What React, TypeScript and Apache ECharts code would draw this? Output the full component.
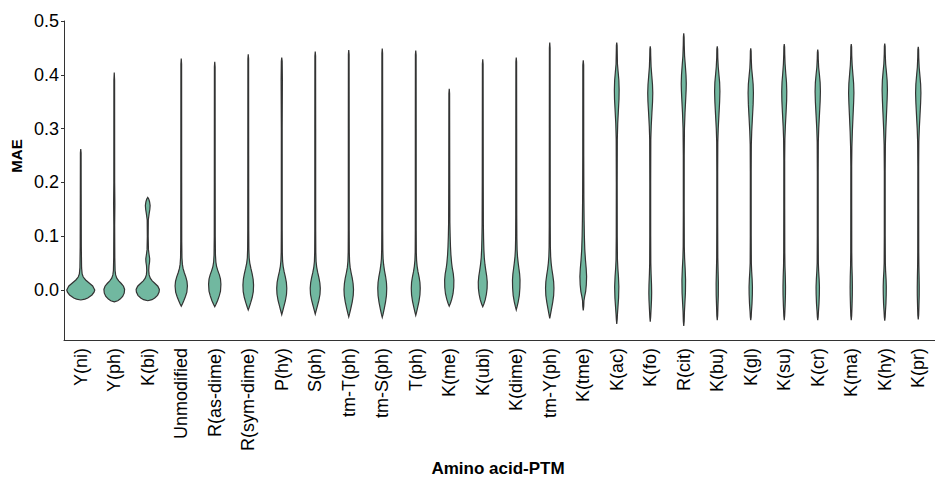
import React, { useEffect, useRef } from "react";
import * as echarts from "echarts";

const categories = [
  "Y(ni)", "Y(ph)", "K(bi)", "Unmodified", "R(as-dime)", "R(sym-dime)", "P(hy)", "S(ph)",
  "tm-T(ph)", "tm-S(ph)", "T(ph)", "K(me)", "K(ubi)", "K(dime)", "tm-Y(ph)", "K(tme)",
  "K(ac)", "K(fo)", "R(cit)", "K(bu)", "K(gl)", "K(su)", "K(cr)", "K(ma)", "K(hy)", "K(pr)",
];

const yTicks = [0, 0.1, 0.2, 0.3, 0.4, 0.5];

// Each violin: [MAE value, relative density (half-width)]
const Y_ni = [[-0.0186,0],[-0.017,0.3],[-0.015,0.5],[-0.0093,0.8],[-0.004,0.95],[0.0,1.0],[0.0074,0.85],[0.013,0.6],[0.0186,0.35],[0.024,0.18],[0.03,0.1],[0.041,0.06],[0.08,0.04],[0.18,0.03],[0.255,0.025],[0.262,0]];
const Y_ph = [[-0.022,0],[-0.02,0.25],[-0.017,0.42],[-0.012,0.6],[-0.006,0.71],[0.001,0.74],[0.007,0.66],[0.012,0.5],[0.017,0.32],[0.022,0.18],[0.028,0.1],[0.036,0.06],[0.06,0.04],[0.12,0.03],[0.16,0.045],[0.2,0.03],[0.39,0.025],[0.404,0]];
const K_bi = [[-0.02,0],[-0.018,0.3],[-0.015,0.5],[-0.01,0.7],[-0.004,0.81],[0.001,0.83],[0.007,0.72],[0.012,0.52],[0.017,0.32],[0.022,0.18],[0.028,0.1],[0.036,0.07],[0.045,0.09],[0.052,0.13],[0.058,0.14],[0.065,0.1],[0.075,0.05],[0.1,0.03],[0.13,0.04],[0.142,0.1],[0.15,0.15],[0.157,0.17],[0.164,0.13],[0.169,0.07],[0.172,0]];
const Unmodified = [[-0.03,0],[-0.026,0.08],[-0.02,0.18],[-0.012,0.3],[-0.004,0.4],[0.0074,0.44],[0.016,0.41],[0.024,0.33],[0.032,0.22],[0.04,0.13],[0.048,0.08],[0.06,0.05],[0.09,0.035],[0.2,0.03],[0.42,0.025],[0.43,0]];
const R_asdime = [[-0.031,0],[-0.027,0.08],[-0.02,0.2],[-0.011,0.32],[-0.002,0.41],[0.0106,0.44],[0.02,0.41],[0.028,0.33],[0.036,0.22],[0.044,0.13],[0.052,0.08],[0.065,0.05],[0.1,0.035],[0.2,0.03],[0.415,0.025],[0.424,0]];
const R_symdime = [[-0.037,0],[-0.032,0.07],[-0.024,0.17],[-0.014,0.28],[-0.003,0.36],[0.009,0.38],[0.02,0.35],[0.03,0.28],[0.04,0.19],[0.05,0.11],[0.06,0.065],[0.075,0.045],[0.11,0.035],[0.25,0.03],[0.43,0.025],[0.438,0]];
const P_hy = [[-0.046,0],[-0.04,0.06],[-0.031,0.15],[-0.02,0.26],[-0.008,0.34],[0.003,0.36],[0.014,0.33],[0.024,0.26],[0.034,0.17],[0.044,0.1],[0.054,0.06],[0.07,0.04],[0.11,0.032],[0.3,0.03],[0.39,0.045],[0.425,0.03],[0.432,0]];
const S_ph = [[-0.045,0],[-0.039,0.06],[-0.03,0.15],[-0.019,0.26],[-0.008,0.34],[0.003,0.36],[0.013,0.33],[0.023,0.26],[0.033,0.17],[0.043,0.1],[0.053,0.06],[0.07,0.04],[0.11,0.032],[0.3,0.03],[0.435,0.025],[0.443,0]];
const tmT_ph = [[-0.05,0],[-0.044,0.06],[-0.034,0.15],[-0.022,0.25],[-0.01,0.32],[0.001,0.34],[0.012,0.31],[0.022,0.25],[0.032,0.17],[0.042,0.1],[0.053,0.06],[0.07,0.04],[0.11,0.032],[0.3,0.03],[0.438,0.025],[0.446,0]];
const tmS_ph = [[-0.051,0],[-0.045,0.06],[-0.035,0.14],[-0.023,0.23],[-0.01,0.3],[0.003,0.32],[0.014,0.3],[0.025,0.24],[0.036,0.16],[0.047,0.1],[0.058,0.06],[0.075,0.04],[0.11,0.032],[0.3,0.03],[0.44,0.025],[0.449,0]];
const T_ph = [[-0.047,0],[-0.041,0.06],[-0.032,0.14],[-0.021,0.23],[-0.009,0.3],[0.003,0.32],[0.014,0.3],[0.024,0.24],[0.034,0.16],[0.044,0.1],[0.055,0.06],[0.07,0.04],[0.11,0.032],[0.3,0.03],[0.437,0.025],[0.445,0]];
const K_me = [[-0.03,0],[-0.025,0.08],[-0.017,0.18],[-0.007,0.27],[0.005,0.32],[0.0186,0.33],[0.03,0.29],[0.04,0.22],[0.05,0.17],[0.065,0.12],[0.08,0.09],[0.1,0.065],[0.125,0.045],[0.2,0.035],[0.365,0.025],[0.374,0]];
const K_ubi = [[-0.031,0],[-0.026,0.08],[-0.018,0.18],[-0.008,0.26],[0.003,0.31],[0.015,0.32],[0.026,0.28],[0.036,0.22],[0.047,0.16],[0.06,0.11],[0.075,0.08],[0.095,0.06],[0.12,0.045],[0.2,0.035],[0.42,0.025],[0.429,0]];
const K_dime = [[-0.037,0],[-0.031,0.06],[-0.022,0.14],[-0.01,0.22],[0.004,0.26],[0.0186,0.27],[0.03,0.24],[0.04,0.19],[0.05,0.14],[0.062,0.09],[0.075,0.06],[0.095,0.045],[0.14,0.035],[0.3,0.03],[0.424,0.025],[0.432,0]];
const tmY_ph = [[-0.053,0],[-0.046,0.05],[-0.036,0.12],[-0.023,0.21],[-0.01,0.28],[0.003,0.3],[0.015,0.28],[0.027,0.22],[0.039,0.15],[0.05,0.1],[0.062,0.065],[0.08,0.045],[0.12,0.035],[0.3,0.03],[0.45,0.025],[0.46,0]];
const K_tme = [[-0.038,0],[-0.03,0.035],[-0.02,0.05],[-0.012,0.1],[-0.003,0.17],[0.01,0.22],[0.025,0.24],[0.04,0.21],[0.055,0.16],[0.075,0.11],[0.1,0.08],[0.13,0.06],[0.17,0.045],[0.25,0.035],[0.418,0.03],[0.427,0]];
const K_ac = [[-0.063,0],[-0.055,0.03],[-0.045,0.05],[-0.03,0.09],[-0.015,0.13],[0.006,0.15],[0.025,0.12],[0.04,0.08],[0.056,0.05],[0.1,0.035],[0.2,0.03],[0.28,0.04],[0.31,0.07],[0.335,0.12],[0.355,0.16],[0.372,0.17],[0.39,0.15],[0.405,0.1],[0.42,0.05],[0.44,0.035],[0.455,0.025],[0.46,0]];
const K_fo = [[-0.059,0],[-0.05,0.03],[-0.035,0.06],[-0.018,0.09],[-0.005,0.1],[0.01,0.09],[0.03,0.06],[0.05,0.04],[0.1,0.032],[0.2,0.03],[0.28,0.04],[0.305,0.07],[0.33,0.12],[0.35,0.165],[0.366,0.18],[0.382,0.16],[0.398,0.11],[0.415,0.06],[0.435,0.035],[0.448,0.025],[0.453,0]];
const R_cit = [[-0.067,0],[-0.058,0.03],[-0.04,0.05],[-0.025,0.08],[-0.005,0.12],[0.019,0.13],[0.04,0.1],[0.06,0.06],[0.08,0.04],[0.15,0.03],[0.25,0.032],[0.3,0.05],[0.33,0.09],[0.355,0.14],[0.372,0.17],[0.384,0.18],[0.4,0.16],[0.418,0.11],[0.435,0.06],[0.455,0.035],[0.47,0.025],[0.477,0]];
const K_bu = [[-0.056,0],[-0.048,0.03],[-0.03,0.05],[-0.01,0.075],[0.013,0.08],[0.035,0.06],[0.06,0.04],[0.12,0.032],[0.22,0.03],[0.275,0.04],[0.3,0.07],[0.325,0.12],[0.35,0.17],[0.369,0.19],[0.386,0.17],[0.4,0.12],[0.415,0.07],[0.432,0.038],[0.448,0.028],[0.453,0]];
const K_gl = [[-0.056,0],[-0.05,0.03],[-0.04,0.05],[-0.025,0.09],[-0.008,0.115],[0.006,0.12],[0.02,0.1],[0.035,0.065],[0.05,0.042],[0.1,0.032],[0.22,0.03],[0.27,0.04],[0.295,0.07],[0.32,0.12],[0.345,0.17],[0.366,0.19],[0.383,0.17],[0.397,0.12],[0.412,0.065],[0.43,0.036],[0.444,0.026],[0.449,0]];
const K_su = [[-0.056,0],[-0.048,0.03],[-0.03,0.06],[-0.01,0.085],[0.006,0.09],[0.025,0.075],[0.045,0.05],[0.07,0.038],[0.15,0.032],[0.24,0.03],[0.28,0.045],[0.305,0.08],[0.33,0.13],[0.352,0.17],[0.369,0.18],[0.386,0.16],[0.402,0.11],[0.42,0.06],[0.438,0.035],[0.452,0.026],[0.457,0]];
const K_cr = [[-0.056,0],[-0.05,0.03],[-0.04,0.05],[-0.025,0.09],[-0.008,0.115],[0.006,0.12],[0.02,0.1],[0.035,0.065],[0.05,0.042],[0.1,0.032],[0.22,0.03],[0.275,0.04],[0.3,0.07],[0.325,0.12],[0.35,0.17],[0.369,0.19],[0.386,0.17],[0.4,0.12],[0.414,0.065],[0.43,0.036],[0.442,0.026],[0.447,0]];
const K_ma = [[-0.056,0],[-0.048,0.03],[-0.03,0.055],[-0.01,0.075],[0.006,0.08],[0.025,0.07],[0.045,0.048],[0.07,0.036],[0.15,0.032],[0.23,0.03],[0.265,0.045],[0.295,0.08],[0.325,0.13],[0.348,0.17],[0.366,0.19],[0.384,0.17],[0.4,0.12],[0.418,0.065],[0.436,0.036],[0.452,0.026],[0.457,0]];
const K_hy = [[-0.057,0],[-0.05,0.03],[-0.04,0.05],[-0.025,0.085],[-0.008,0.105],[0.006,0.11],[0.02,0.095],[0.035,0.062],[0.05,0.042],[0.1,0.032],[0.22,0.03],[0.27,0.045],[0.3,0.08],[0.33,0.13],[0.354,0.17],[0.372,0.19],[0.39,0.17],[0.405,0.12],[0.42,0.065],[0.438,0.036],[0.453,0.026],[0.458,0]];
const K_pr = [[-0.055,0],[-0.047,0.03],[-0.03,0.05],[-0.01,0.068],[0.006,0.07],[0.025,0.06],[0.045,0.045],[0.07,0.036],[0.15,0.032],[0.23,0.03],[0.275,0.042],[0.3,0.075],[0.325,0.125],[0.348,0.17],[0.366,0.19],[0.383,0.17],[0.398,0.12],[0.414,0.065],[0.432,0.036],[0.447,0.026],[0.452,0]];

const profiles: number[][][] = [
  Y_ni, Y_ph, K_bi, Unmodified, R_asdime, R_symdime, P_hy, S_ph, tmT_ph, tmS_ph, T_ph,
  K_me, K_ubi, K_dime, tmY_ph, K_tme, K_ac, K_fo, R_cit, K_bu, K_gl, K_su, K_cr, K_ma, K_hy, K_pr,
];

const FONT = "'Liberation Sans', Arial, Helvetica, sans-serif";

export default function App() {
  const ref = useRef<HTMLDivElement>(null);
  useEffect(() => {
    if (!ref.current) return;
    const chart = echarts.init(ref.current, null, { renderer: "svg" });
    const data = profiles.map((p, i) => {
      const vals = p.map((k) => k[0]);
      return [i, Math.min(...vals), Math.max(...vals)];
    });
    chart.setOption({
      animation: false,
      backgroundColor: "#ffffff",
      grid: { left: 64, right: 0, top: 21, bottom: 139, containLabel: false },
      xAxis: {
        type: "category",
        data: categories,
        boundaryGap: true,
        axisLine: { onZero: false, lineStyle: { color: "#333333", width: 1 } },
        axisTick: { alignWithLabel: true, length: 4, lineStyle: { color: "#333333" } },
        axisLabel: {
          rotate: 90,
          interval: 0,
          margin: 8,
          fontSize: 18,
          color: "#000000",
          fontFamily: FONT,
        },
        splitLine: { show: false },
      },
      yAxis: {
        type: "value",
        min: -0.093,
        max: 0.5,
        axisLine: { show: true, onZero: false, lineStyle: { color: "#333333", width: 1 } },
        axisTick: { show: true, length: 3, customValues: yTicks, lineStyle: { color: "#333333" } },
        axisLabel: {
          customValues: yTicks,
          margin: 5,
          fontSize: 18,
          color: "#000000",
          fontFamily: FONT,
          formatter: (v: number) => v.toFixed(1),
        },
        splitLine: { show: false },
      },
      graphic: [
        {
          type: "text",
          x: 16,
          y: 156,
          rotation: Math.PI / 2,
          style: {
            text: "MAE",
            fontSize: 15,
            fontWeight: "bold",
            fontFamily: FONT,
            fill: "#000000",
            textAlign: "center",
            textVerticalAlign: "middle",
          },
        },
        {
          type: "text",
          x: 498,
          y: 468,
          style: {
            text: "Amino acid-PTM",
            fontSize: 17,
            fontWeight: "bold",
            fontFamily: FONT,
            fill: "#000000",
            textAlign: "center",
            textVerticalAlign: "middle",
          },
        },
      ],
      series: [
        {
          type: "custom",
          data,
          encode: { x: 0, y: [1, 2] },
          renderItem: (params: any, api: any) => {
            const idx = api.value(0);
            const prof = profiles[idx];
            const band = api.size([1, 0])[0];
            const half = band * 0.418;
            const right: number[][] = [];
            const left: number[][] = [];
            for (const [v, d] of prof) {
              const pt = api.coord([idx, v]);
              right.push([pt[0] + d * half, pt[1]]);
              left.push([pt[0] - d * half, pt[1]]);
            }
            const points = right.concat(left.reverse());
            return {
              type: "polygon",
              shape: { points },
              style: { fill: "#71b8a0", stroke: "#333333", lineWidth: 1.2 },
            };
          },
        },
      ],
    });
    return () => chart.dispose();
  }, []);
  return (
    <div
      ref={ref}
      style={{ position: "absolute", left: 0, top: 0, width: 935, height: 479 }}
    />
  );
}
